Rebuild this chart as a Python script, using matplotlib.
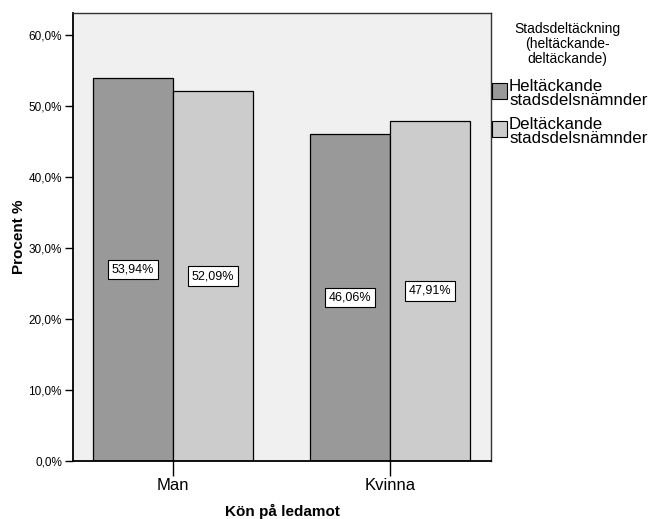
import numpy as np
import matplotlib.pyplot as plt
from matplotlib.patches import Rectangle

# andel per kön och typ av stadsdelsnämnd
kon = ["Man", "Kvinna"]
heltackande = [53.94, 46.06]
deltackande = [52.09, 47.91]
serier = ["Heltäckande\nstadsdelsnämnder", "Deltäckande\nstadsdelsnämnder"]
farger = ["#999999", "#cccccc"]

plt.rcParams['font.family'] = ['Liberation Sans', 'DejaVu Sans']

fig = plt.figure(figsize=(6.48, 5.19), dpi=100)
ax = fig.add_axes([0.1127, 0.1118, 0.645, 0.8632])
ax.set_facecolor("#f0f0f0")

x = np.arange(len(kon))
w = 0.369
for i, (vals, col) in enumerate(zip([heltackande, deltackande], farger)):
    pos = x + (i - 0.5) * w
    ax.bar(pos, vals, width=w, color=col, edgecolor="black", linewidth=0.9, zorder=2)
    for p, v in zip(pos, vals):
        ax.text(p, v / 2, f"{v:.2f}%".replace(".", ","), ha="center", va="center",
                fontsize=9, zorder=3,
                bbox=dict(boxstyle="square,pad=0.3", fc="white", ec="black", lw=0.8))

ax.set_xlim(-0.461, 1.465)
ax.set_ylim(0, 63.1)
ax.set_yticks(np.arange(0, 61, 10))
ax.set_yticklabels([f"{t:.1f}%".replace(".", ",") for t in np.arange(0, 61, 10)], fontsize=8.5)
ax.set_xticks(x)
ax.set_xticklabels(kon, fontsize=12)
ax.tick_params(axis="y", length=6, width=1, pad=2)
ax.tick_params(axis="x", length=11, width=1, pad=1)
for s in ax.spines.values():
    s.set_color("#333333")
    s.set_linewidth(1.0)
ax.spines["left"].set_color("black")
ax.spines["bottom"].set_color("black")
ax.spines["left"].set_linewidth(1.3)
ax.spines["bottom"].set_linewidth(1.3)

ax.set_ylabel("Procent %", fontsize=11, fontweight="bold", labelpad=2)
ax.set_xlabel("Kön på ledamot", fontsize=11, fontweight="bold", labelpad=8)

# förklaring till höger om diagrammet
fig.text(567 / 648, 1 - 44 / 519, "Stadsdeltäckning\n(heltäckande-\ndeltäckande)",
         ha="center", va="center", fontsize=10, linespacing=1.1)
for k, (namn, col) in enumerate(zip(serier, farger)):
    ytop = 83 + k * 38
    fig.patches.append(Rectangle((492 / 648, 1 - (ytop + 16) / 519), 15 / 648, 16 / 519,
                                 transform=fig.transFigure, fc=col, ec="black", lw=0.8))
    fig.text(509 / 648, 1 - (ytop + 10.5) / 519, namn, ha="left", va="center",
             fontsize=12.2, linespacing=0.98)

fig.savefig("out.png", dpi=100)
